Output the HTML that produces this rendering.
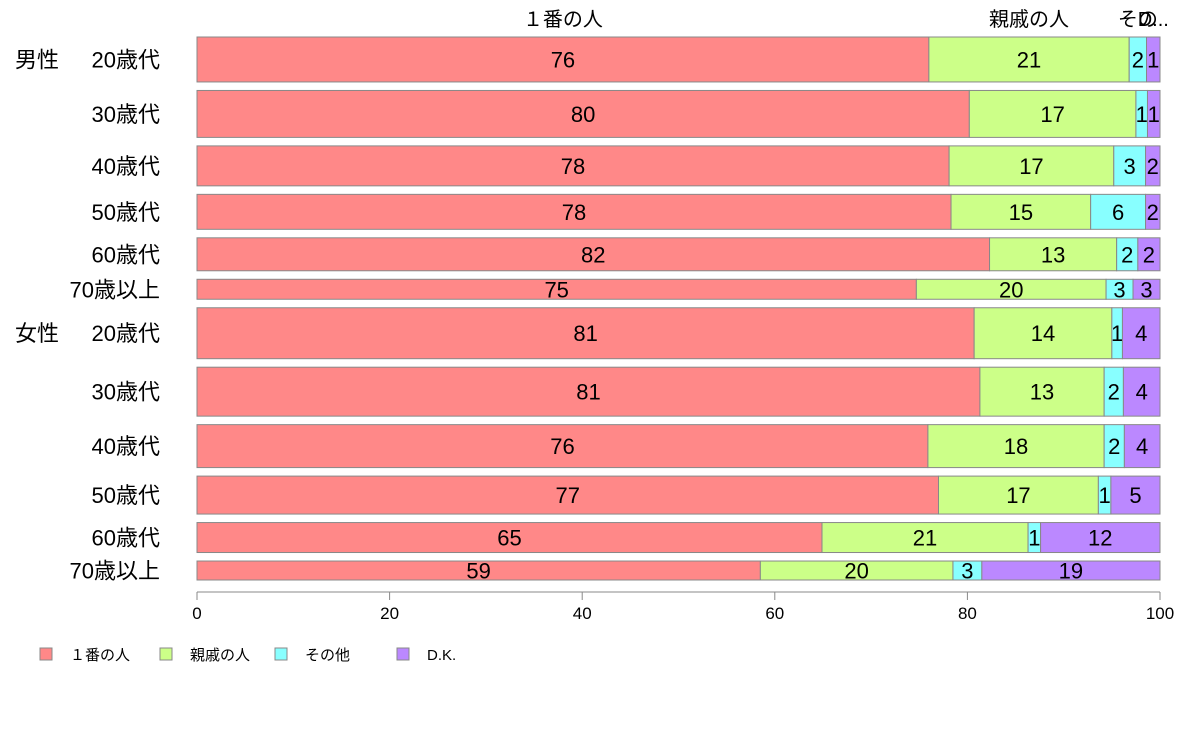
<!DOCTYPE html>
<html><head><meta charset="utf-8">
<style>
body{margin:0;background:#fff;font-family:"Liberation Sans","Noto Sans CJK JP",sans-serif;}
svg text{font-family:"Liberation Sans","Noto Sans CJK JP",sans-serif;}
</style></head>
<body>
<svg id="chart" width="1188" height="736" xmlns="http://www.w3.org/2000/svg"></svg>
<script>
const categories=["20歳代","30歳代","40歳代","50歳代","60歳代","70歳以上","20歳代","30歳代","40歳代","50歳代","60歳代","70歳以上"];
const groups=["男性","","","","","","女性","","","","",""];
const weights=[45,47,40,35,33,20,51,49,43,38,30,19];
const seriesNames=["１番の人","親戚の人","その他","D.K."];
const s1=[76.0,80.2,78.1,78.3,82.3,74.7,80.7,81.3,75.9,77.0,64.9,58.5];
const s2=[20.8,17.3,17.1,14.5,13.2,19.7,14.3,12.9,18.3,16.6,21.4,20.0];
const s3=[1.8,1.2,3.3,5.7,2.2,2.8,1.1,2.0,2.1,1.3,1.3,3.0];
const s4=[1.4,1.3,1.5,1.5,2.3,2.8,3.9,3.8,3.7,5.1,12.4,18.5];
const ticks=[0,20,40,60,80,100];
const colors=["#ff8888","#ccff88","#88ffff","#bb88ff"];
const NS="http://www.w3.org/2000/svg";
const svg=document.getElementById("chart");
const X0=197,X1=1160,TOP=37,BOT=580,GAP=8.5;
function xs(v){return X0+(X1-X0)*v/100;}
function mk(t,a,txt){const e=document.createElementNS(NS,t);for(const k in a)e.setAttribute(k,a[k]);if(txt!==undefined)e.textContent=txt;svg.appendChild(e);return e;}
const series=[s1,s2,s3,s4];
const tw=weights.reduce((a,b)=>a+b,0);
const unit=(BOT-TOP-GAP*(weights.length-1))/tw;
let y=TOP;
for(let i=0;i<categories.length;i++){
  const h=weights[i]*unit;
  let acc=0;
  for(let s=0;s<4;s++){
    const v=series[s][i];
    const r=mk("rect",{x:xs(acc),y:y,width:xs(acc+v)-xs(acc),height:h,fill:colors[s],stroke:"#888","stroke-width":1});
    
    
    const t=mk("text",{x:(xs(acc)+xs(acc+v))/2,y:y+h/2+8,"text-anchor":"middle","font-size":22,fill:"#000"},Math.round(v));
    
    
    if(i===0){
      let lbl=seriesNames[s];
      const tt=mk("text",{x:(xs(acc)+xs(acc+v))/2,y:26,"text-anchor":"middle","font-size":20,fill:"#000"},s===2?"その":(s===3?"D...":lbl));
      
      
    }
    acc+=v;
  }
  const cl=mk("text",{x:160,y:y+h/2+8,"text-anchor":"end","font-size":22,fill:"#000"},categories[i]);
  
  
  if(groups[i]){
    const gl=mk("text",{x:15,y:y+h/2+8,"font-size":22,fill:"#000"},groups[i]);
    
    
  }
  y+=h+GAP;
}
const ax=mk("line",{x1:X0,y1:592,x2:X1,y2:592,stroke:"#888","stroke-width":1});


for(const t of ticks){
  const tl=mk("line",{x1:xs(t),y1:592,x2:xs(t),y2:600,stroke:"#888","stroke-width":1});
  
  
  const tx=mk("text",{x:xs(t),y:619,"text-anchor":"middle","font-size":17,fill:"#000"},t);
  
  
}
const lx=[40,160,275,397];
for(let s=0;s<4;s++){
  const r=mk("rect",{x:lx[s],y:648,width:12,height:12,fill:colors[s],stroke:"#888","stroke-width":1});
  
  
  const t=mk("text",{x:lx[s]+30,y:660,"font-size":15,fill:"#000"},seriesNames[s]);
  
  
}
</script>
</body></html>
